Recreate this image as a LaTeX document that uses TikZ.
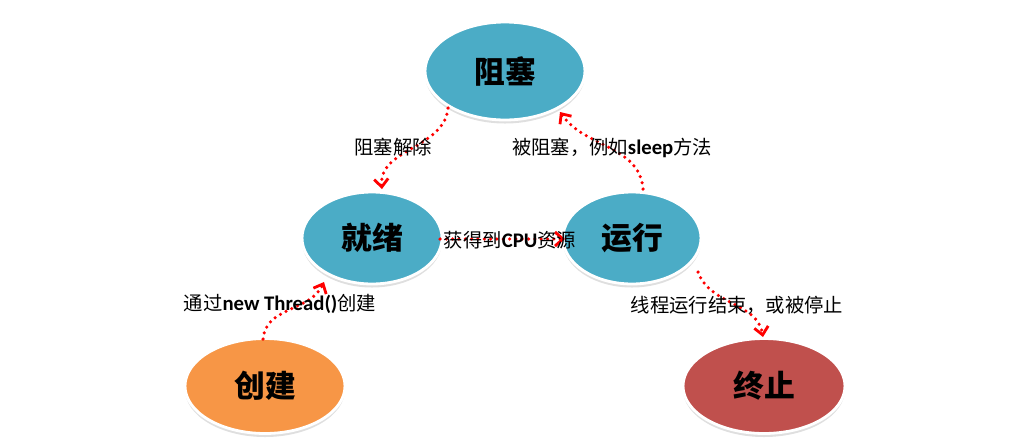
\documentclass[tikz,border=0pt]{standalone}
\usepackage{fontspec}
\newfontfamily\cjk{Noto Sans CJK SC}
\newfontfamily\latn{Carlito}
\usetikzlibrary{arrows.meta,shadows,shapes.geometric}
\definecolor{stblue}{HTML}{4BACC6}
\definecolor{storange}{HTML}{F79646}
\definecolor{stred}{HTML}{C0504D}
\definecolor{arrred}{HTML}{FF0000}
\tikzset{
  state/.style={ellipse, draw=white, line width=1.6pt,
    drop shadow={opacity=0.25, shadow xshift=0pt, shadow yshift=-2pt},
    font=\cjk\bfseries\fontsize{17.5}{20}\selectfont, text=black},
  trans/.style={draw=arrred, line width=2pt, line cap=round,
    dash pattern=on 0pt off 3.6pt,
    -{Straight Barb[length=4.5pt,width=8pt,line width=1.6pt,sep=0pt]}},
  lbl/.style={font=\cjk\fontsize{11}{13}\selectfont, text=black, inner sep=0pt},
  latin/.style={},
}
\newcommand{\lt}[1]{{\latn\bfseries\fontsize{11.8}{13}\selectfont #1}}
\begin{document}
\begin{tikzpicture}[x=0.02cm,y=-0.02cm]
\useasboundingbox (0,0) rectangle (1024,447);
\node[state, fill=stblue, minimum width=3.2cm, minimum height=1.96cm] (blk) at (505,71) {阻塞};
\node[state, fill=stblue, minimum width=2.8cm, minimum height=1.84cm] (rdy) at (372,238) {就绪};
\node[state, fill=stblue, minimum width=2.76cm, minimum height=1.84cm] (run) at (632,238) {运行};
\node[state, fill=storange, minimum width=3.2cm, minimum height=1.9cm] (new) at (265,386) {创建};
\node[state, fill=stred, minimum width=3.24cm, minimum height=1.9cm] (end) at (764,386) {终止};

\coordinate (a1) at (448,108);
\coordinate (a2) at (382,189);
\draw[trans] (a1) to[out=-95, in=95] (a2);

\coordinate (b1) at (643,189);
\coordinate (b2) at (560,112);
\draw[trans] (b1) to[out=95, in=-55] (b2);

\coordinate (c1) at (440,239);
\coordinate (c2) at (565,239);
\draw[trans] (c1) -- (c2);

\coordinate (d1) at (263,339);
\coordinate (d2) at (324,282);
\draw[trans] (d1) to[out=85, in=-115] (d2);

\coordinate (e1) at (698,272);
\coordinate (e2) at (763,337);
\draw[trans] (e1) to[out=-70, in=100] (e2);

\node[lbl] (l1) at (393,147) {阻塞解除};
\node[lbl] (l2) at (612,148) {被阻塞，例如\lt{sleep}方法};
\node[lbl] (l3) at (510,240) {获得到\lt{CPU}资源};
\node[lbl] (l4) at (280,304) {通过\lt{new Thread()}创建};
\node[lbl] (l5) at (737,305) {线程运行结束，或被停止};
\end{tikzpicture}
\end{document}
